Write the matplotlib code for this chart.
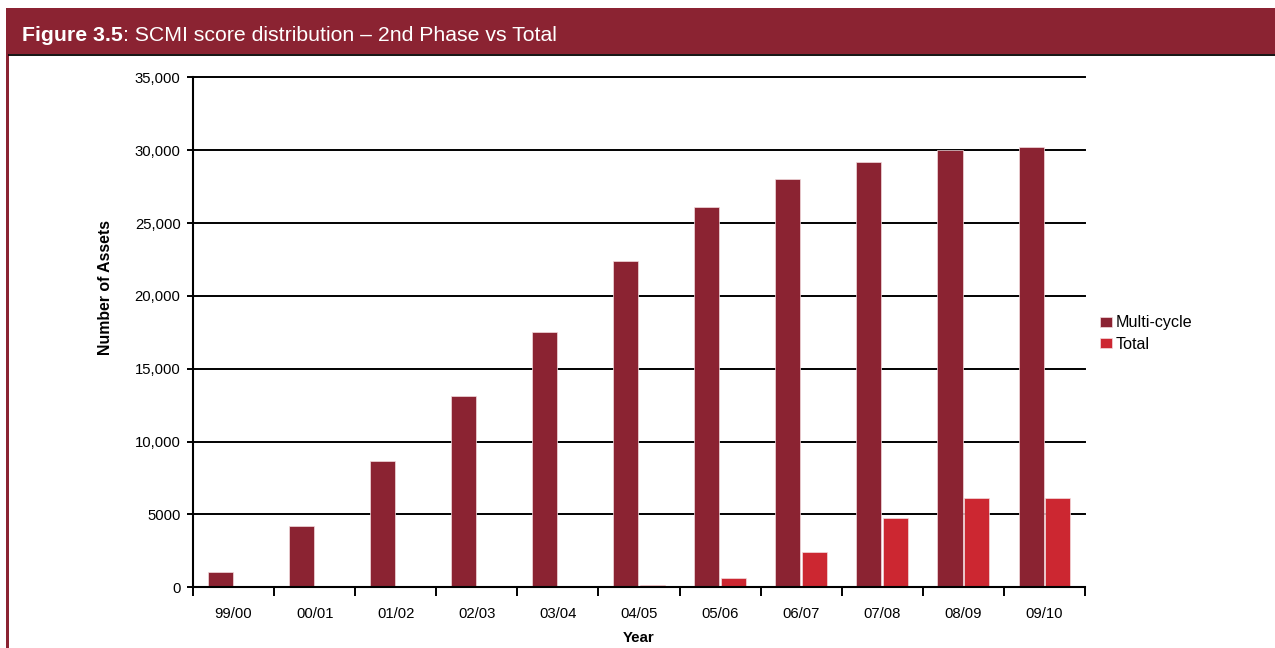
import matplotlib
matplotlib.use("Agg")
import matplotlib.pyplot as plt
from matplotlib.patches import Rectangle
import numpy as np

plt.rcParams['font.family'] = ['Liberation Sans', 'DejaVu Sans']

years = ["99/00", "00/01", "01/02", "02/03", "03/04", "04/05",
         "05/06", "06/07", "07/08", "08/09", "09/10"]
multi_cycle = [1050, 4200, 8700, 13100, 17500, 22400, 26100, 28000, 29200, 30000, 30200]
total = [0, 0, 40, 40, 40, 180, 620, 2400, 4750, 6100, 6100]
y_ticks = [0, 5000, 10000, 15000, 20000, 25000, 30000, 35000]
y_tick_labels = ["0", "5000", "10,000", "15,000", "20,000", "25,000", "30,000", "35,000"]
series_names = ["Multi-cycle", "Total"]

DARK = "#8B2332"
RED = "#CC2731"
W, H = 1275, 648

fig = plt.figure(figsize=(W / 100, H / 100), dpi=100)
fig.patch.set_facecolor("white")

# header band, rule beneath it and left frame stripe
fig.patches.append(Rectangle((6 / W, 1 - 54 / H), 1 - 6 / W, 46 / H,
                             transform=fig.transFigure, facecolor=DARK,
                             edgecolor="none", zorder=0))
fig.add_artist(plt.Line2D([9 / W, 1], [1 - 54.5 / H, 1 - 54.5 / H],
                          transform=fig.transFigure, color="black", lw=1.3))
fig.patches.append(Rectangle((6 / W, 0), 3 / W, 1 - 8 / H,
                             transform=fig.transFigure, facecolor=DARK,
                             edgecolor="none", zorder=0))

t1 = fig.text(22 / W, 1 - 41 / H, "Figure 3.5", color="white",
              fontsize=15.3, fontweight="bold", va="baseline", ha="left")
fig.canvas.draw()
bb = t1.get_window_extent(renderer=fig.canvas.get_renderer())
fig.text(bb.x1 / W, 1 - 41 / H, ": SCMI score distribution \u2013 2nd Phase vs Total",
         color="white", fontsize=15.3, va="baseline", ha="left")

ax = fig.add_axes([193 / W, 1 - 587.3 / H, (1085 - 193) / W, (587.3 - 77.3) / H])

x = np.arange(len(years))
bw = 0.31
off = 0.165
ax.bar(x - off, multi_cycle, bw, color=DARK, edgecolor="#f2dcde", linewidth=0.5,
       label=series_names[0], zorder=3)
ax.bar(x + off, total, bw, color=RED, edgecolor="#f2dcde", linewidth=0.5,
       label=series_names[1], zorder=3)

ax.set_xlim(-0.5, len(years) - 0.5)
ax.set_ylim(0, 35000)

ax.set_yticks(y_ticks)
ax.set_yticklabels(y_tick_labels)
ax.tick_params(axis="y", direction="out", length=4, width=1.4, pad=5,
               labelsize=10.7, colors="black")

ax.set_xticks(np.arange(-0.5, len(years), 1.0))
ax.set_xticklabels([])
ax.tick_params(axis="x", which="major", direction="out", length=6.5, width=1.4)
ax.set_xticks(x, minor=True)
ax.set_xticklabels(years, minor=True)
ax.tick_params(axis="x", which="minor", length=0, pad=14, labelsize=10.7)

ax.yaxis.grid(True, color="black", linewidth=1.4, zorder=1)
ax.set_axisbelow(True)
for gl in ax.get_ygridlines():
    gl.set_clip_on(False)
for s in ["top", "right"]:
    ax.spines[s].set_visible(False)
for s in ["left", "bottom"]:
    ax.spines[s].set_linewidth(1.5)
    ax.spines[s].set_zorder(4)

fig.text(106 / W, 1 - 287 / H, "Number of Assets", rotation=90, fontsize=11.4,
         fontweight="bold", ha="center", va="center")
fig.text(639 / W, 1 - 638 / H, "Year", fontsize=10.8, fontweight="bold",
         ha="center", va="center")

fig.legend(loc="center left", bbox_to_anchor=(1100 / W, 1 - 333.5 / H),
           frameon=False, fontsize=11.6, handlelength=0.72, handleheight=0.6,
           handletextpad=0.25, labelspacing=0.38, borderpad=0, borderaxespad=0)

fig.savefig("out.png", dpi=100, facecolor="white")
